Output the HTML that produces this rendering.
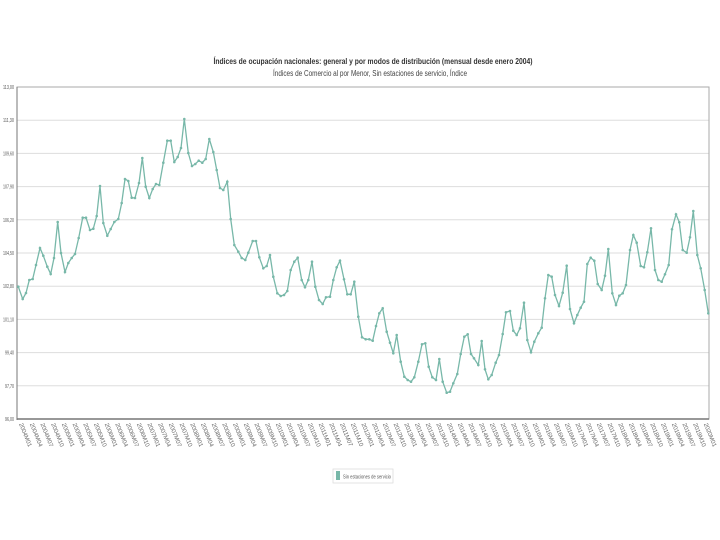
<!DOCTYPE html>
<html><head><meta charset="utf-8"><style>
body{margin:0;background:#fff;}
svg{display:block;font-family:"Liberation Sans",sans-serif;}
</style></head><body>
<svg id="s" width="720" height="540" xmlns="http://www.w3.org/2000/svg">
<rect width="720" height="540" fill="#fff"/>
<text x="373" y="64" text-anchor="middle" font-size="8.5" font-weight="bold" fill="#333" textLength="319" lengthAdjust="spacingAndGlyphs">Índices de ocupación nacionales: general y por modos de distribución (mensual desde enero 2004)</text>
<text x="370" y="76" text-anchor="middle" font-size="8" fill="#444" textLength="194" lengthAdjust="spacingAndGlyphs">Índices de Comercio al por Menor, Sin estaciones de servicio, Índice</text>
<g id="grid"></g>
<rect x="17" y="87" width="692" height="332" fill="none" stroke="#aaa" stroke-width="1"/>
<line x1="17" y1="87" x2="17" y2="420" stroke="#777" stroke-width="1"/>
<line x1="17" y1="419" x2="709" y2="419" stroke="#777" stroke-width="1.5"/>
<polyline id="pl" fill="none" stroke="#78b8a9" stroke-width="1.3" points=""/>
<g id="dots" fill="#78b8a9"></g>
<g id="xl" font-size="6" fill="#666"></g>
<rect x="333" y="469" width="60" height="14" fill="#fff" stroke="#ddd" stroke-width="0.8"/>
<rect x="336" y="471" width="4" height="9" fill="#78b8a9"/>
<text x="343" y="478.5" font-size="5.5" fill="#555" textLength="48" lengthAdjust="spacingAndGlyphs">Sin estaciones de servicio</text>
</svg>
<script>
var s="http://www.w3.org/2000/svg";
var g=document.getElementById('grid');
var labs=["113,00","111,30","109,60","107,90","106,20","104,50","102,80","101,10","99,40","97,70","96,00"];
for(var i=0;i<11;i++){var y=87+i*33.2;
 if(i>0&&i<10){var l=document.createElementNS(s,'line');l.setAttribute('x1',17);l.setAttribute('x2',709);l.setAttribute('y1',y);l.setAttribute('y2',y);l.setAttribute('stroke','#ddd');g.appendChild(l);}
 var t=document.createElementNS(s,'text');t.setAttribute('x',14);t.setAttribute('y',y+2);t.setAttribute('text-anchor','end');t.setAttribute('font-size','5.5');t.setAttribute('fill','#555');t.setAttribute('textLength',labs[i].length>5?11:9);t.setAttribute('lengthAdjust','spacingAndGlyphs');t.textContent=labs[i];g.appendChild(t);}
var p=[[18.3,286.7],[22.7,299],[26,293],[29.3,280],[32.7,279],[36,265],[40,248],[43.3,255.7],[47.3,266.7],[50.7,274],[54,258],[57.7,222],[61,253],[65,272],[68.3,263],[71.7,258],[75,254],[78.7,238],[82.7,217.7],[86,217.7],[90,230],[93.3,228.7],[96.7,216],[100,186],[103.3,223],[107.3,235.7],[110.7,229],[114.3,222],[118.3,219],[121.7,203],[125,179],[128.3,181],[131.7,197.7],[135,198],[139,183],[142.3,158],[145.7,186.7],[149.3,198],[152.7,189],[156,184],[159.3,185],[163.3,162.7],[167.3,140.7],[170.7,140.7],[174.3,162],[177.7,157],[181,148],[184.3,119],[188.3,153],[192,166],[195.3,164],[198.7,160.7],[202.3,162.7],[205.7,159],[209.3,139],[213.3,152],[216.7,170],[220,188],[223.3,190],[227.3,181.7],[230.7,219],[234.3,245],[238.3,251.7],[241.7,258],[245.3,260],[248.3,252.7],[252.7,241],[256,241],[259.3,257.3],[263.3,268.3],[266.7,266],[270,255],[273.3,276.7],[277.3,293.3],[280.7,296],[284,295],[287.3,291],[290.7,270],[294.3,261.7],[297.7,257.7],[301.7,280],[305,287.3],[308.3,280],[312,261.7],[315.3,286.7],[319,300],[322.7,304],[326,297.3],[330,296.7],[333.3,280],[336.7,267.3],[340,260.7],[344,279.3],[347.3,294.3],[350.7,294.3],[354.3,281.7],[358.3,316.7],[362,337.3],[365.7,339.3],[369.3,339.3],[372.7,340.7],[376,326],[379.3,313.3],[382.7,308.3],[386.7,331.7],[390,342.7],[393.3,353.3],[396.7,335],[400.7,361.7],[404.3,376.7],[407.7,380],[411,381.7],[414.3,377.3],[418.3,361.7],[422,344.3],[425.3,343.3],[428.7,366.7],[432.3,377.3],[436,380],[439.3,359],[442.7,381.7],[446.7,392.7],[450,391.7],[453.3,383.3],[457.3,374],[460.7,354],[464.3,336.7],[467.7,334.3],[471,354],[474,358.3],[478.3,365],[481.7,341],[485,369.3],[488.3,379.3],[491.7,375],[495.7,362.7],[499,355],[502.7,334],[506,312.3],[510,311],[513.3,330.7],[516.7,335],[520,328.3],[524,302.7],[527.3,340],[531,352.3],[534.3,341.7],[538.3,333.3],[541.7,327.7],[545,298.3],[548.3,275],[551.7,276.7],[555,295],[559,306],[562.7,292.7],[566.7,265.7],[570,309],[574,323.3],[577.3,315],[580.7,307.7],[584,301.7],[587.3,264],[590.7,257.7],[594.3,260.7],[597.7,284],[601.7,290],[605,275.7],[608.3,249],[612.3,293.3],[616,305],[619.3,295.7],[622.7,293.3],[626,285],[630,250],[633.3,235],[636.7,242.7],[640.7,266],[644,267.3],[647.3,252.3],[651,228.3],[655,270],[658.3,280],[661.7,281.7],[665,274.3],[668.7,265],[672,229.3],[676,214.3],[679.3,222.3],[682.7,250],[686.7,252.7],[690,237.3],[693.3,211],[697.3,255],[700.7,268.3],[704.7,290],[708.3,313.3]];
document.getElementById('pl').setAttribute('points',p.map(function(a){return a.join(',')}).join(' '));
var d=document.getElementById('dots');
p.forEach(function(a){var c=document.createElementNS(s,'circle');c.setAttribute('cx',a[0]);c.setAttribute('cy',a[1]);c.setAttribute('r',1.3);d.appendChild(c);});
var xl=document.getElementById('xl');
var m=["M01","M04","M07","M10"];
for(var k=0;k<65;k++){var x=19+k*10.7;if(x>712)break;
 var yr=2004+Math.floor(k/4);
 var t=document.createElementNS(s,'text');t.setAttribute('transform','translate('+x+',424) rotate(68)');t.textContent=yr+m[k%4];xl.appendChild(t);}
</script>
</body></html>
